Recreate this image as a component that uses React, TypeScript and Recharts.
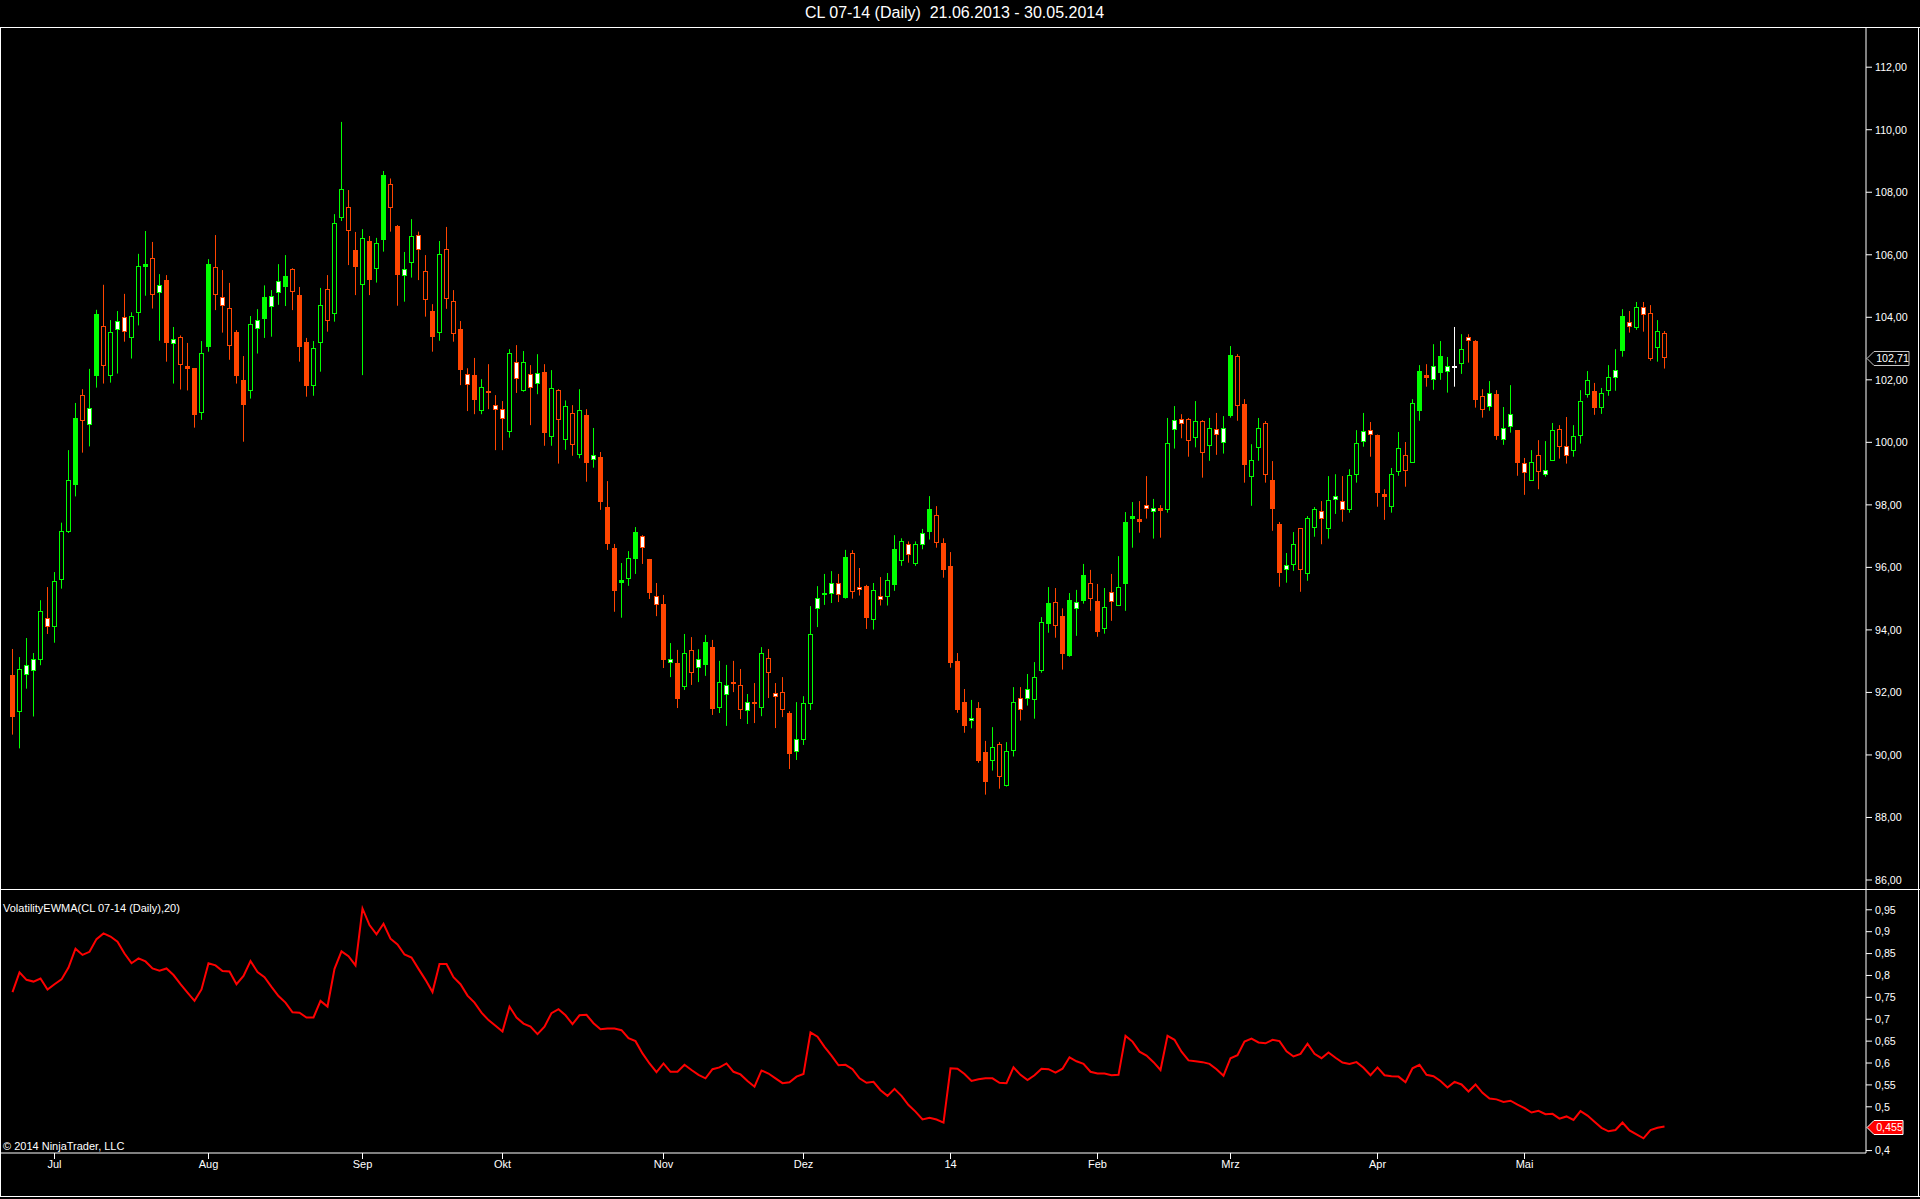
import React from 'react';
import { ComposedChart, Bar, Line, XAxis, YAxis, ReferenceLine } from 'recharts';

const UP = '#00ff00';
const DOWN = '#ff4500';
const FONT = 'Arial, "Liberation Sans", sans-serif';

// CL 07-14 daily bars, 21.06.2013 - 30.05.2014 (one entry per session)
const opens = [
  92.53, 91.40, 92.58, 92.71, 93.06, 94.37, 94.12, 95.62, 97.15, 98.64,
  101.50, 100.57, 102.14, 103.71, 102.14, 103.60, 104.00, 103.35, 104.15, 105.64,
  105.88, 104.80, 105.18, 103.17, 103.36, 102.42, 102.35, 100.95, 103.06, 105.60,
  104.64, 104.29, 103.50, 101.99, 101.66, 103.63, 103.96, 104.34, 104.79, 104.97,
  105.53, 104.71, 103.18, 101.81, 103.20, 104.89, 104.13, 107.19, 107.52, 106.15,
  105.05, 106.44, 105.57, 106.48, 108.25, 106.92, 105.34, 105.75, 106.62, 105.47,
  104.20, 103.52, 106.17, 104.51, 103.62, 102.17, 102.14, 101.01, 101.64, 101.18,
  101.05, 100.34, 102.56, 101.65, 102.17, 101.87, 102.22, 100.18, 101.66, 100.08,
  100.93, 99.60, 100.87, 99.44, 99.50, 97.93, 96.59, 95.52, 95.65, 96.30,
  97.00, 96.24, 95.08, 94.80, 92.95, 92.94, 92.18, 93.35, 92.80, 92.88,
  93.45, 91.51, 91.94, 92.33, 92.23, 91.42, 91.69, 91.51, 93.09, 91.95,
  92.00, 91.31, 90.10, 90.49, 91.64, 94.68, 95.12, 95.16, 95.47, 95.03,
  96.45, 95.36, 95.40, 94.34, 95.07, 95.07, 95.45, 96.22, 96.74, 96.13,
  96.74, 97.14, 97.67, 96.77, 96.04, 93.00, 91.69, 91.10, 91.47, 90.09,
  89.82, 90.34, 89.02, 90.15, 91.81, 91.81, 91.77, 92.70, 94.20, 94.89,
  94.44, 93.18, 94.68, 94.93, 95.50, 94.92, 94.04, 95.20, 94.79, 95.48,
  97.56, 97.52, 97.98, 97.79, 97.88, 97.86, 100.42, 100.74, 100.74, 100.16,
  100.67, 99.90, 100.42, 100.00, 100.85, 102.75, 101.22, 98.90, 99.84, 100.61,
  98.79, 97.36, 95.93, 96.09, 97.25, 95.80, 97.27, 97.79, 97.25, 98.17,
  98.11, 97.84, 98.96, 100.02, 100.38, 100.22, 98.33, 97.94, 99.07, 99.58,
  99.36, 101.01, 102.13, 102.01, 102.23, 102.26, 102.43, 102.51, 103.34, 103.21,
  101.47, 101.14, 101.54, 100.10, 100.51, 100.39, 99.33, 98.77, 99.58, 98.97,
  99.41, 100.41, 99.87, 99.74, 100.22, 101.53, 101.64, 101.12, 101.66, 102.09,
  102.93, 103.84, 103.67, 104.32, 104.12, 103.03, 103.49,
];

const highs = [
  93.39, 93.13, 93.74, 93.26, 94.95, 95.37, 95.85, 97.43, 99.75, 101.26,
  101.70, 102.35, 104.24, 105.04, 103.91, 104.20, 104.75, 104.16, 106.03, 106.76,
  106.41, 105.38, 105.35, 103.69, 103.42, 103.18, 102.35, 103.24, 105.86, 106.63,
  105.51, 105.10, 103.59, 102.76, 104.04, 104.26, 105.02, 104.87, 105.70, 105.99,
  105.57, 104.97, 103.34, 103.24, 104.94, 105.35, 107.30, 110.25, 108.07, 106.73,
  106.82, 106.60, 106.54, 108.68, 108.44, 106.95, 106.09, 107.14, 106.74, 105.99,
  104.42, 106.44, 106.89, 104.87, 103.88, 102.37, 102.70, 102.02, 102.50, 101.51,
  101.32, 102.98, 103.11, 102.92, 102.47, 102.82, 102.50, 102.31, 101.70, 101.34,
  101.19, 101.70, 101.06, 100.46, 99.69, 98.76, 96.75, 96.14, 96.52, 97.29,
  97.03, 96.27, 95.50, 95.12, 93.58, 93.36, 93.87, 93.77, 93.38, 93.84,
  93.68, 93.01, 92.88, 93.01, 92.75, 91.95, 92.30, 93.45, 93.39, 92.30,
  92.49, 91.40, 91.69, 91.88, 94.76, 95.40, 95.79, 95.88, 95.79, 96.56,
  96.55, 95.98, 95.44, 95.50, 95.69, 95.82, 97.03, 96.93, 96.83, 96.83,
  97.23, 98.28, 97.96, 96.93, 96.49, 93.26, 92.11, 91.76, 91.69, 90.45,
  90.89, 90.41, 90.41, 92.17, 92.17, 92.59, 92.97, 94.41, 95.37, 95.34,
  94.69, 95.18, 95.28, 96.11, 95.92, 95.47, 95.34, 95.79, 96.36, 97.77,
  98.09, 98.12, 98.92, 98.19, 97.99, 100.78, 101.16, 100.90, 100.78, 101.32,
  100.71, 100.78, 100.94, 100.84, 103.08, 102.82, 101.38, 99.94, 100.78, 100.68,
  99.40, 97.45, 96.46, 97.13, 97.26, 97.64, 97.93, 98.12, 98.92, 98.98,
  98.92, 99.14, 100.39, 100.94, 100.65, 100.25, 98.50, 99.18, 100.33, 100.01,
  101.38, 102.47, 102.50, 103.14, 103.24, 102.73, 103.69, 103.46, 103.46, 103.27,
  101.70, 101.96, 101.67, 101.13, 101.83, 100.39, 99.50, 99.75, 100.07, 100.04,
  100.62, 100.55, 100.81, 100.55, 101.67, 102.28, 101.90, 101.74, 102.47, 102.98,
  104.26, 104.20, 104.49, 104.49, 104.39, 103.91, 103.56,
];

const lows = [
  90.65, 90.21, 92.12, 91.23, 92.87, 93.87, 93.59, 95.32, 97.10, 98.27,
  99.67, 99.87, 101.75, 101.88, 101.91, 102.20, 103.22, 102.68, 103.74, 104.69,
  104.28, 103.25, 102.58, 101.88, 101.69, 101.66, 100.47, 100.72, 102.90, 104.23,
  103.51, 102.64, 101.88, 100.02, 101.40, 102.84, 103.34, 103.38, 104.40, 104.36,
  104.23, 102.58, 101.46, 101.49, 102.26, 103.54, 103.86, 107.08, 105.67, 104.71,
  102.15, 104.71, 105.11, 106.10, 106.74, 104.37, 104.50, 105.27, 105.19, 104.02,
  102.90, 103.25, 104.27, 103.22, 101.83, 101.00, 100.90, 100.90, 101.06, 99.75,
  99.75, 100.15, 101.58, 101.62, 100.55, 101.54, 99.89, 99.89, 99.32, 99.76,
  99.57, 99.49, 98.74, 99.19, 97.84, 96.56, 94.58, 94.39, 95.41, 95.79,
  96.11, 94.99, 94.44, 92.78, 92.49, 91.50, 92.08, 92.24, 92.33, 92.53,
  91.28, 91.34, 90.93, 92.01, 91.15, 90.99, 91.02, 91.24, 91.82, 90.86,
  91.21, 89.55, 89.84, 90.32, 91.44, 94.09, 94.80, 94.86, 94.89, 95.00,
  95.00, 95.10, 94.03, 94.01, 94.78, 94.78, 95.25, 96.05, 96.15, 96.05,
  96.58, 96.89, 96.63, 95.67, 92.79, 91.35, 90.71, 90.85, 89.75, 88.73,
  89.50, 88.92, 88.99, 89.95, 91.10, 91.58, 91.16, 92.63, 93.91, 93.75,
  92.73, 93.14, 93.81, 94.84, 94.61, 93.78, 93.88, 94.29, 94.77, 94.61,
  96.63, 97.11, 97.56, 96.92, 96.95, 97.75, 99.80, 100.13, 99.54, 99.84,
  98.87, 99.41, 99.60, 99.64, 100.79, 100.69, 98.71, 97.97, 99.41, 98.71,
  97.17, 95.38, 95.51, 95.89, 95.22, 95.57, 96.98, 96.74, 96.92, 97.71,
  97.46, 97.75, 98.71, 99.86, 99.54, 97.94, 97.52, 97.75, 98.93, 98.58,
  99.36, 100.69, 101.78, 101.68, 102.00, 101.59, 101.78, 102.19, 102.55, 101.11,
  100.79, 101.01, 100.08, 99.92, 100.31, 98.93, 98.32, 98.77, 98.50, 98.90,
  99.41, 99.48, 99.32, 99.54, 99.96, 101.43, 100.88, 100.91, 101.49, 101.65,
  102.74, 103.51, 103.60, 103.54, 102.61, 102.58, 102.36,
];

const closes = [
  91.23, 92.74, 92.86, 93.06, 94.60, 94.12, 95.56, 97.15, 98.79, 100.77,
  100.70, 101.09, 104.09, 102.46, 103.51, 103.87, 103.54, 104.02, 105.63, 105.70,
  104.74, 105.03, 103.19, 103.29, 102.48, 102.36, 100.89, 102.85, 105.70, 104.73,
  104.37, 103.10, 102.15, 101.20, 103.77, 103.90, 104.64, 104.67, 105.15, 105.29,
  104.82, 103.06, 101.81, 103.01, 104.38, 103.89, 107.00, 108.09, 106.77, 105.62,
  106.53, 105.20, 106.36, 108.52, 107.52, 105.36, 105.54, 106.59, 106.17, 104.57,
  103.38, 106.01, 104.60, 103.48, 102.32, 101.85, 101.36, 101.76, 101.58, 101.05,
  100.75, 102.84, 102.03, 102.56, 101.75, 102.21, 100.33, 101.73, 100.72, 101.15,
  99.92, 101.02, 99.37, 99.58, 98.12, 96.75, 95.27, 95.58, 96.30, 97.13,
  96.63, 95.21, 94.81, 93.04, 93.06, 91.79, 93.25, 92.63, 93.06, 93.60,
  91.47, 92.32, 92.21, 92.27, 91.45, 91.68, 91.63, 93.25, 92.63, 91.86,
  91.45, 90.06, 90.51, 91.63, 93.84, 95.02, 95.18, 95.47, 95.12, 96.33,
  95.23, 95.30, 94.39, 95.27, 94.98, 95.59, 96.58, 96.83, 96.42, 96.74,
  97.09, 97.86, 96.80, 95.93, 92.95, 91.45, 90.94, 91.18, 89.82, 89.15,
  90.24, 89.31, 90.12, 91.68, 91.45, 92.10, 92.48, 94.24, 94.85, 94.13,
  93.24, 94.94, 94.89, 95.75, 95.00, 93.94, 94.72, 94.91, 95.36, 97.42,
  97.62, 97.46, 97.89, 97.89, 97.82, 99.97, 100.70, 100.61, 100.06, 100.67,
  99.68, 100.45, 100.25, 100.45, 102.79, 101.18, 99.28, 99.42, 100.45, 98.97,
  97.88, 95.83, 96.07, 96.74, 95.93, 97.57, 97.85, 97.56, 98.14, 98.27,
  97.84, 98.94, 99.97, 100.35, 100.25, 98.39, 98.27, 98.97, 99.80, 99.10,
  101.24, 102.28, 102.07, 102.43, 102.73, 102.43, 102.43, 102.98, 103.26, 101.36,
  101.05, 101.57, 100.21, 100.45, 100.89, 99.35, 99.04, 99.36, 99.07, 99.10,
  100.38, 99.87, 99.58, 100.19, 101.31, 101.98, 101.11, 101.57, 102.08, 102.30,
  104.04, 103.71, 104.32, 104.09, 102.68, 103.55, 102.71,
];

// bar body class as painted on the chart: f = solid, h = hollow, w = white body
const barClass = [
  'fhwwhwhhhf', 'hwfhhwwhhf', 'hwfwhffhfh', 'whffhwfwwf', 'hffhhhhhhf',
  'hfhfhfwhwh', 'fhhhfwfhfw', 'whwhwwfhhh', 'hhfwffffhf', 'wfwfwfhhwf',
  'fhwfhwfhhw', 'hfwhhwfwwf', 'hwfhwhfhwh', 'wfhffffwff', 'hhhhwwhhfh',
  'ffwfhfhwhf', 'ffwwfhwwhh', 'hhwwfhfhhh', 'ffwhhhhwhw', 'whhwwffhhh',
  'hffwfwfhwf', 'hwfwwfwhhw', 'hhwhhhfhhw', 'fwhwhhh',
].join('').split('');

const volatility = [
  0.762, 0.807, 0.790, 0.786, 0.793, 0.768, 0.780, 0.791, 0.818, 0.861,
  0.847, 0.854, 0.883, 0.896, 0.889, 0.877, 0.850, 0.828, 0.839, 0.832,
  0.816, 0.811, 0.816, 0.801, 0.780, 0.761, 0.742, 0.768, 0.828, 0.823,
  0.810, 0.809, 0.780, 0.799, 0.833, 0.808, 0.796, 0.774, 0.753, 0.738,
  0.716, 0.715, 0.704, 0.704, 0.742, 0.729, 0.815, 0.855, 0.844, 0.823,
  0.953, 0.915, 0.894, 0.918, 0.884, 0.871, 0.848, 0.841, 0.815, 0.790,
  0.762, 0.826, 0.826, 0.796, 0.780, 0.754, 0.738, 0.715, 0.698, 0.685,
  0.672, 0.729, 0.704, 0.690, 0.683, 0.666, 0.683, 0.714, 0.723, 0.709,
  0.689, 0.709, 0.710, 0.691, 0.677, 0.679, 0.679, 0.675, 0.657, 0.650,
  0.622, 0.599, 0.579, 0.599, 0.580, 0.580, 0.596, 0.584, 0.573, 0.565,
  0.586, 0.590, 0.599, 0.580, 0.574, 0.559, 0.546, 0.583, 0.576, 0.565,
  0.554, 0.556, 0.569, 0.575, 0.670, 0.660, 0.637, 0.617, 0.595, 0.596,
  0.586, 0.565, 0.555, 0.557, 0.538, 0.525, 0.541, 0.525, 0.504, 0.489,
  0.471, 0.475, 0.471, 0.464, 0.588, 0.587, 0.575, 0.559, 0.563, 0.565,
  0.565, 0.555, 0.554, 0.590, 0.573, 0.561, 0.572, 0.587, 0.586, 0.578,
  0.587, 0.613, 0.604, 0.598, 0.580, 0.576, 0.576, 0.572, 0.573, 0.662,
  0.649, 0.626, 0.617, 0.602, 0.584, 0.662, 0.653, 0.626, 0.606, 0.604,
  0.602, 0.598, 0.586, 0.571, 0.611, 0.618, 0.649, 0.656, 0.647, 0.645,
  0.653, 0.650, 0.627, 0.615, 0.621, 0.644, 0.621, 0.611, 0.624, 0.612,
  0.601, 0.598, 0.602, 0.589, 0.572, 0.590, 0.572, 0.570, 0.569, 0.556,
  0.588, 0.596, 0.573, 0.570, 0.559, 0.544, 0.557, 0.551, 0.535, 0.551,
  0.532, 0.519, 0.517, 0.511, 0.514, 0.505, 0.497, 0.487, 0.491, 0.483,
  0.484, 0.473, 0.478, 0.470, 0.490, 0.480, 0.466, 0.452, 0.444, 0.447,
  0.464, 0.446, 0.437, 0.428, 0.447, 0.452, 0.455,
];

const monthTicks = [6, 28, 50, 70, 93, 113, 134, 155, 174, 195, 216];
const monthLabels = ['Jul', 'Aug', 'Sep', 'Okt', 'Nov', 'Dez', '14', 'Feb', 'Mrz', 'Apr', 'Mai'];
const priceTicks = [86, 88, 90, 92, 94, 96, 98, 100, 102, 104, 106, 108, 110, 112];
const volTicks = [0.4, 0.5, 0.55, 0.6, 0.65, 0.7, 0.75, 0.8, 0.85, 0.9, 0.95];

const rows = opens.map((o, i) => ({
  i,
  o,
  h: highs[i],
  l: lows[i],
  c: closes[i],
  range: [lows[i], highs[i]],
  kind: barClass[i],
  vol: volatility[i],
}));

const lastClose = closes[closes.length - 1];
const lastVol = volatility[volatility.length - 1];

// plot is 1866px wide, sessions 7px apart, first one centred at 12.5px
const X_DOMAIN = [-12.5 / 7, (1866 - 12.5) / 7];

const Candle = (props: any) => {
  const { x, y, width, height, payload } = props;
  if (!payload || x == null) return null;
  const { o, h, l, c, kind } = payload;
  const top = Math.min(y, y + height);
  const span = Math.abs(height);
  const k = span / (h - l);
  const yOf = (v: number) => top + (h - v) * k;
  const cx = Math.floor(x + width / 2) + 0.5;
  const color = c > o ? UP : c < o ? DOWN : '#ffffff';
  const bTop = Math.floor(yOf(Math.max(o, c))) + 0.5;
  const bBot = Math.floor(yOf(Math.min(o, c))) + 0.5;
  const fill = kind === 'f' ? color : kind === 'w' ? '#ffffff' : '#000000';
  return (
    <g>
      <line x1={cx} x2={cx} y1={top} y2={top + span} stroke={color} strokeWidth={1} />
      <rect x={cx - 2} y={bTop} width={4} height={Math.max(bBot - bTop, 1)} fill={fill} stroke={color} strokeWidth={1} />
    </g>
  );
};

const Tag = ({ viewBox, text, bg, border, color, w }: any) => {
  if (!viewBox) return null;
  const x0 = viewBox.x + viewBox.width;
  const yc = Math.round(viewBox.y) + 0.5;
  const hh = 7;
  const pts = [
    [x0 + 1, yc], [x0 + 8, yc - hh], [x0 + 8 + w, yc - hh], [x0 + 8 + w, yc + hh], [x0 + 8, yc + hh],
  ].map((p) => p.join(',')).join(' ');
  return (
    <g>
      <polygon points={pts} fill={bg} stroke={border} strokeWidth={1} />
      <text x={x0 + 9 + w / 2} y={yc} dy="0.36em" textAnchor="middle" fill={color} fontSize={10.7} fontFamily={FONT}>
        {text}
      </text>
    </g>
  );
};

const fmtPrice = (v: number) => v.toFixed(2).replace('.', ',');
const fmtVol = (v: number) => String(v).replace('.', ',');
const fmtMonth = (v: number) => monthLabels[monthTicks.indexOf(v)] ?? '';

const hLine = (top: number, left: number, width: number) => (
  <div style={{ position: 'absolute', top, left, width, height: 1, background: '#ffffff' }} />
);
const vLine = (left: number, top: number, height: number) => (
  <div style={{ position: 'absolute', top, left, width: 1, height, background: '#ffffff' }} />
);

export default function App() {
  return (
    <div style={{ position: 'fixed', left: 0, top: 0, width: 1920, height: 1199, background: '#000', overflow: 'hidden', fontFamily: FONT }}>
      <div style={{ position: 'absolute', left: 0, top: 4, width: 1909, textAlign: 'center', color: '#fff', fontSize: 16, whiteSpace: 'pre' }}>
        {'CL 07-14 (Daily)  21.06.2013 - 30.05.2014'}
      </div>

      <div style={{ position: 'absolute', left: 0, top: 28 }}>
        <ComposedChart width={1920} height={861} data={rows} margin={{ top: 0, right: 0, bottom: 0, left: 0 }}>
          <XAxis dataKey="i" type="number" domain={X_DOMAIN} allowDataOverflow hide />
          <YAxis
            orientation="right"
            type="number"
            domain={[85.712, 113.254]}
            allowDataOverflow
            ticks={priceTicks}
            interval={0}
            width={54}
            tickFormatter={fmtPrice}
            tick={{ fill: '#ffffff', fontSize: 10.7, fontFamily: FONT }}
            tickSize={6}
            tickMargin={3}
            stroke="#ffffff"
          />
          <Bar dataKey="range" shape={<Candle />} barSize={5} isAnimationActive={false} />
          <ReferenceLine
            y={lastClose}
            stroke="none"
            ifOverflow="visible"
            label={(p: any) => <Tag viewBox={p.viewBox} text={fmtPrice(lastClose)} bg="#000000" border="#c8c8c8" color="#ffffff" w={35} />}
          />
        </ComposedChart>
      </div>

      <div style={{ position: 'absolute', left: 0, top: 890 }}>
        <ComposedChart width={1920} height={306} data={rows} margin={{ top: 0, right: 0, bottom: 0, left: 0 }}>
          <XAxis
            dataKey="i"
            type="number"
            domain={X_DOMAIN}
            allowDataOverflow
            ticks={monthTicks}
            interval={0}
            tickFormatter={fmtMonth}
            height={43}
            tickSize={6}
            tickMargin={1}
            stroke="#ffffff"
            tick={{ fill: '#ffffff', fontSize: 11, fontFamily: FONT }}
          />
          <YAxis
            orientation="right"
            type="number"
            domain={[0.3945, 0.9952]}
            allowDataOverflow
            ticks={volTicks}
            interval={0}
            width={54}
            tickFormatter={fmtVol}
            tick={{ fill: '#ffffff', fontSize: 10.7, fontFamily: FONT }}
            tickSize={6}
            tickMargin={3}
            stroke="#ffffff"
          />
          <Line type="linear" dataKey="vol" stroke="#ff0000" strokeWidth={2} dot={false} isAnimationActive={false} />
          <ReferenceLine
            y={lastVol}
            stroke="none"
            ifOverflow="visible"
            label={(p: any) => <Tag viewBox={p.viewBox} text={fmtVol(lastVol)} bg="#ff0000" border="#ffffff" color="#ffffff" w={29} />}
          />
        </ComposedChart>
      </div>

      <div style={{ position: 'absolute', left: 3, top: 902, color: '#fff', fontSize: 11 }}>
        VolatilityEWMA(CL 07-14 (Daily),20)
      </div>
      <div style={{ position: 'absolute', left: 3, top: 1140, color: '#fff', fontSize: 11 }}>
        © 2014 NinjaTrader, LLC
      </div>

      {hLine(27, 0, 1920)}
      {hLine(889, 0, 1920)}
      {hLine(1196, 0, 1920)}
      {vLine(0, 27, 1170)}
      {vLine(1918, 27, 1170)}
    </div>
  );
}
